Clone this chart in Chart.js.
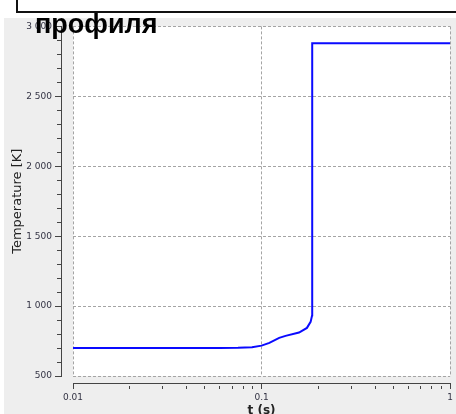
<!DOCTYPE html>
<html><head><meta charset="utf-8">
<script src="https://cdn.jsdelivr.net/npm/chart.js@4/dist/chart.umd.min.js"></script>
<style>
html,body{margin:0;padding:0;background:#fff;overflow:hidden;width:456px;height:414px;}
#box{position:absolute;left:16px;top:-10px;width:520px;height:23px;border:2px solid #111;box-sizing:border-box;background:#fff;}
#wrap{position:absolute;left:4px;top:18px;width:452px;height:404px;background:#eeeeee;}
#title{position:absolute;left:35px;top:11px;font:bold 27px "Liberation Sans",Arial,sans-serif;line-height:27px;color:#000;white-space:nowrap;}
canvas{display:block;}
</style>
</head><body>
<div id="box"></div>
<div id="wrap"><canvas id="c" width="452" height="404"></canvas></div>
<div id="title">профиля</div>
<script>
// ---- data ----
const T_S    = [0.01, 0.03, 0.06, 0.075, 0.089, 0.1, 0.11, 0.124, 0.134, 0.158, 0.174, 0.182, 0.1854, 0.1856, 1];
const TEMP_K = [700,  700,  701,  702,   705,   717, 737,  773,   787,   811,   844,   887,   934,    2880,   2880];

const X_MIN = 0.01, X_MAX = 1;
const Y_MIN = 500, Y_MAX = 3000;
const X_MAJOR = [0.01, 0.1, 1];
const X_TICK_LABELS = ['0.01', '0.1', '1'];
const Y_MAJOR = [500, 1000, 1500, 2000, 2500, 3000];
const Y_TICK_LABELS = ['500', '1 000', '1 500', '2 000', '2 500', '3 000'];
const Y_TITLE = 'Temperature [K]';
const X_TITLE = 't (s)';

// minor tick positions
const X_ALL = [];
for (let d = 0.01; d < 1; d *= 10) for (let m = 1; m < 10; m++) X_ALL.push(+(d * m).toPrecision(3));
X_ALL.push(1);
const Y_ALL = [];
for (let v = Y_MIN; v <= Y_MAX; v += 100) Y_ALL.push(v);

const isMajor = (arr, v) => arr.some(a => Math.abs(a - v) < 1e-9 * Math.max(1, Math.abs(a)));
const FONT = 'DejaVu Sans';
const GRID = '#a4a4a4';
const AXIS = '#444';
const LABEL = '#333344';

const plotBg = {
  id: 'plotBg',
  beforeDraw(chart) {
    const { ctx, chartArea: a } = chart;
    ctx.save();
    ctx.fillStyle = '#ffffff';
    ctx.fillRect(a.left, a.top, a.right - a.left, a.bottom - a.top);
    ctx.restore();
  }
};

new Chart(document.getElementById('c'), {
  type: 'line',
  data: {
    datasets: [{
      data: T_S.map((t, i) => ({ x: t, y: TEMP_K[i] })),
      borderColor: '#0a0aff',
      borderWidth: 2,
      pointRadius: 0,
      tension: 0,
      fill: false,
      xAxisID: 'x',
      yAxisID: 'y'
    }]
  },
  options: {
    responsive: false,
    animation: false,
    devicePixelRatio: 1,
    layout: { padding: { top: 7, right: 4, left: 0, bottom: 0 } },
    plugins: { legend: { display: false }, tooltip: { enabled: false }, title: { display: false } },
    scales: {
      x: {
        type: 'logarithmic', position: 'bottom', min: X_MIN, max: X_MAX, weight: 0,
        afterBuildTicks: s => { s.ticks = X_MAJOR.map(v => ({ value: v })); },
        afterFit: s => { s.height = 7; },
        ticks: { display: false },
        grid: { color: GRID, lineWidth: 1, drawTicks: false },
        border: { display: false, dash: [3, 2] }
      },
      xt: {
        type: 'logarithmic', position: 'bottom', min: X_MIN, max: X_MAX, weight: 1,
        afterBuildTicks: s => { s.ticks = X_ALL.map(v => ({ value: v })); },
        afterFit: s => { s.height = 39; },
        ticks: {
          autoSkip: false, maxRotation: 0, minRotation: 0, padding: 3,
          font: { family: FONT, size: 9 }, color: LABEL,
          callback: v => { const i = X_MAJOR.findIndex(a => Math.abs(a - v) < 1e-9); return i >= 0 ? X_TICK_LABELS[i] : ''; }
        },
        grid: {
          drawOnChartArea: false, drawTicks: true, tickLength: 6, tickColor: AXIS, tickWidth: 1,
          tickBorderDash: c => (c.tick && !isMajor(X_MAJOR, c.tick.value)) ? [4, 2] : [],
          tickBorderDashOffset: c => (c.tick && !isMajor(X_MAJOR, c.tick.value)) ? 4 : 0
        },
        border: { display: true, color: AXIS, width: 1 },
        title: { display: true, text: X_TITLE, color: '#222', font: { family: FONT, size: 12, weight: 'bold' }, padding: { top: 0, bottom: 4 } }
      },
      y: {
        type: 'linear', position: 'left', min: Y_MIN, max: Y_MAX, weight: 0,
        afterBuildTicks: s => { s.ticks = Y_MAJOR.map(v => ({ value: v })); },
        afterFit: s => { s.width = 12; },
        ticks: { display: false },
        grid: { color: GRID, lineWidth: 1, drawTicks: false },
        border: { display: false, dash: [3, 2] }
      },
      yt: {
        type: 'linear', position: 'left', min: Y_MIN, max: Y_MAX, weight: 1,
        afterBuildTicks: s => { s.ticks = Y_ALL.map(v => ({ value: v })); },
        afterFit: s => { s.width = 57; },
        ticks: {
          autoSkip: false, padding: 3,
          font: { family: FONT, size: 9 }, color: LABEL,
          callback: v => { const i = Y_MAJOR.indexOf(v); return i >= 0 ? Y_TICK_LABELS[i] : ''; }
        },
        grid: {
          drawOnChartArea: false, drawTicks: true, tickLength: 6, tickColor: AXIS, tickWidth: 1,
          tickBorderDash: c => (c.tick && !isMajor(Y_MAJOR, c.tick.value)) ? [4, 2] : [],
          tickBorderDashOffset: c => (c.tick && !isMajor(Y_MAJOR, c.tick.value)) ? 4 : 0
        },
        border: { display: true, color: AXIS, width: 1 },
        title: { display: true, text: Y_TITLE, color: '#222', font: { family: FONT, size: 13 }, padding: { top: 6, bottom: 0 } }
      }
    }
  },
  plugins: [plotBg]
});
</script>
</body></html>
